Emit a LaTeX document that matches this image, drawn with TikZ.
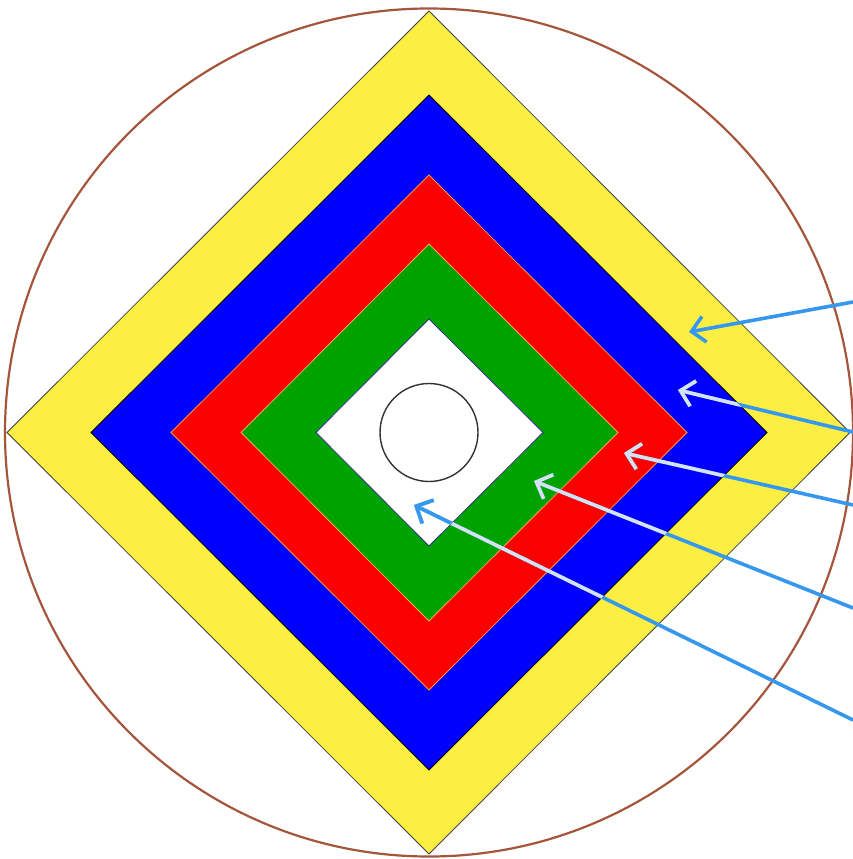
\documentclass[tikz,border=0pt]{standalone}
\usetikzlibrary{arrows.meta}
\definecolor{ringyellow}{RGB}{253,238,68}
\definecolor{ringblue}{RGB}{0,0,255}
\definecolor{ringred}{RGB}{250,0,0}
\definecolor{ringgreen}{RGB}{0,162,0}
\definecolor{circbrown}{RGB}{165,85,60}
\definecolor{arrowblue}{RGB}{53,152,238}
\definecolor{arrowlight}{RGB}{212,226,244}
\begin{document}
\begin{tikzpicture}[x=1pt,y=-1pt,
  ring/.style={line width=0.8pt},
  ptr/.style={line width=3.6pt,-{Straight Barb[length=13pt,width=26pt,line width=3.6pt]}}]
\useasboundingbox (0,0) rectangle (852,859);
\coordinate (c) at (429,432.5);
\draw[circbrown,line width=2.2pt] (c) circle (424);
\path[ring,fill=ringyellow,draw=black!75] (429,11) -- (850,432.5) -- (429,854) -- (7,432.5) -- cycle;
\path[ring,fill=ringblue,draw=black] (429,95) -- (767,432.5) -- (429,770) -- (91,432.5) -- cycle;
\path[ring,fill=ringred,draw=orange!80] (429,175) -- (687,432.5) -- (429,690) -- (171,432.5) -- cycle;
\path[ring,fill=ringgreen,draw=orange!70] (429,244) -- (618,432.5) -- (429,621) -- (241,432.5) -- cycle;
\path[ring,fill=white,draw={rgb,255:red,50;green,50;blue,130}] (429,319) -- (543,432.5) -- (429,546) -- (316,432.5) -- cycle;
\node[draw=black!80,line width=1.4pt,circle,minimum size=98pt,inner sep=0pt] (hub) at (c) {};
% arrow ends
\coordinate (s1) at (853,302); \coordinate (t1) at (689,332);
\coordinate (s2) at (853,432); \coordinate (t2) at (678,390);
\coordinate (s3) at (853,505); \coordinate (t3) at (624,453);
\coordinate (s4) at (853,608); \coordinate (t4) at (534,481);
\coordinate (s5) at (853,720); \coordinate (t5) at (414,505);
\foreach \i in {1,...,5} {\draw[ptr,arrowblue] (s\i) -- (t\i);}
\begin{scope}
\clip (429,95) -- (767,432.5) -- (429,770) -- (91,432.5) -- cycle;
\foreach \i in {1,...,5} {\draw[ptr,arrowlight] (s\i) -- (t\i);}
\end{scope}
\begin{scope}
\clip (429,319) -- (543,432.5) -- (429,546) -- (316,432.5) -- cycle;
\foreach \i in {1,...,5} {\draw[ptr,arrowblue] (s\i) -- (t\i);}
\end{scope}
\end{tikzpicture}
\end{document}
